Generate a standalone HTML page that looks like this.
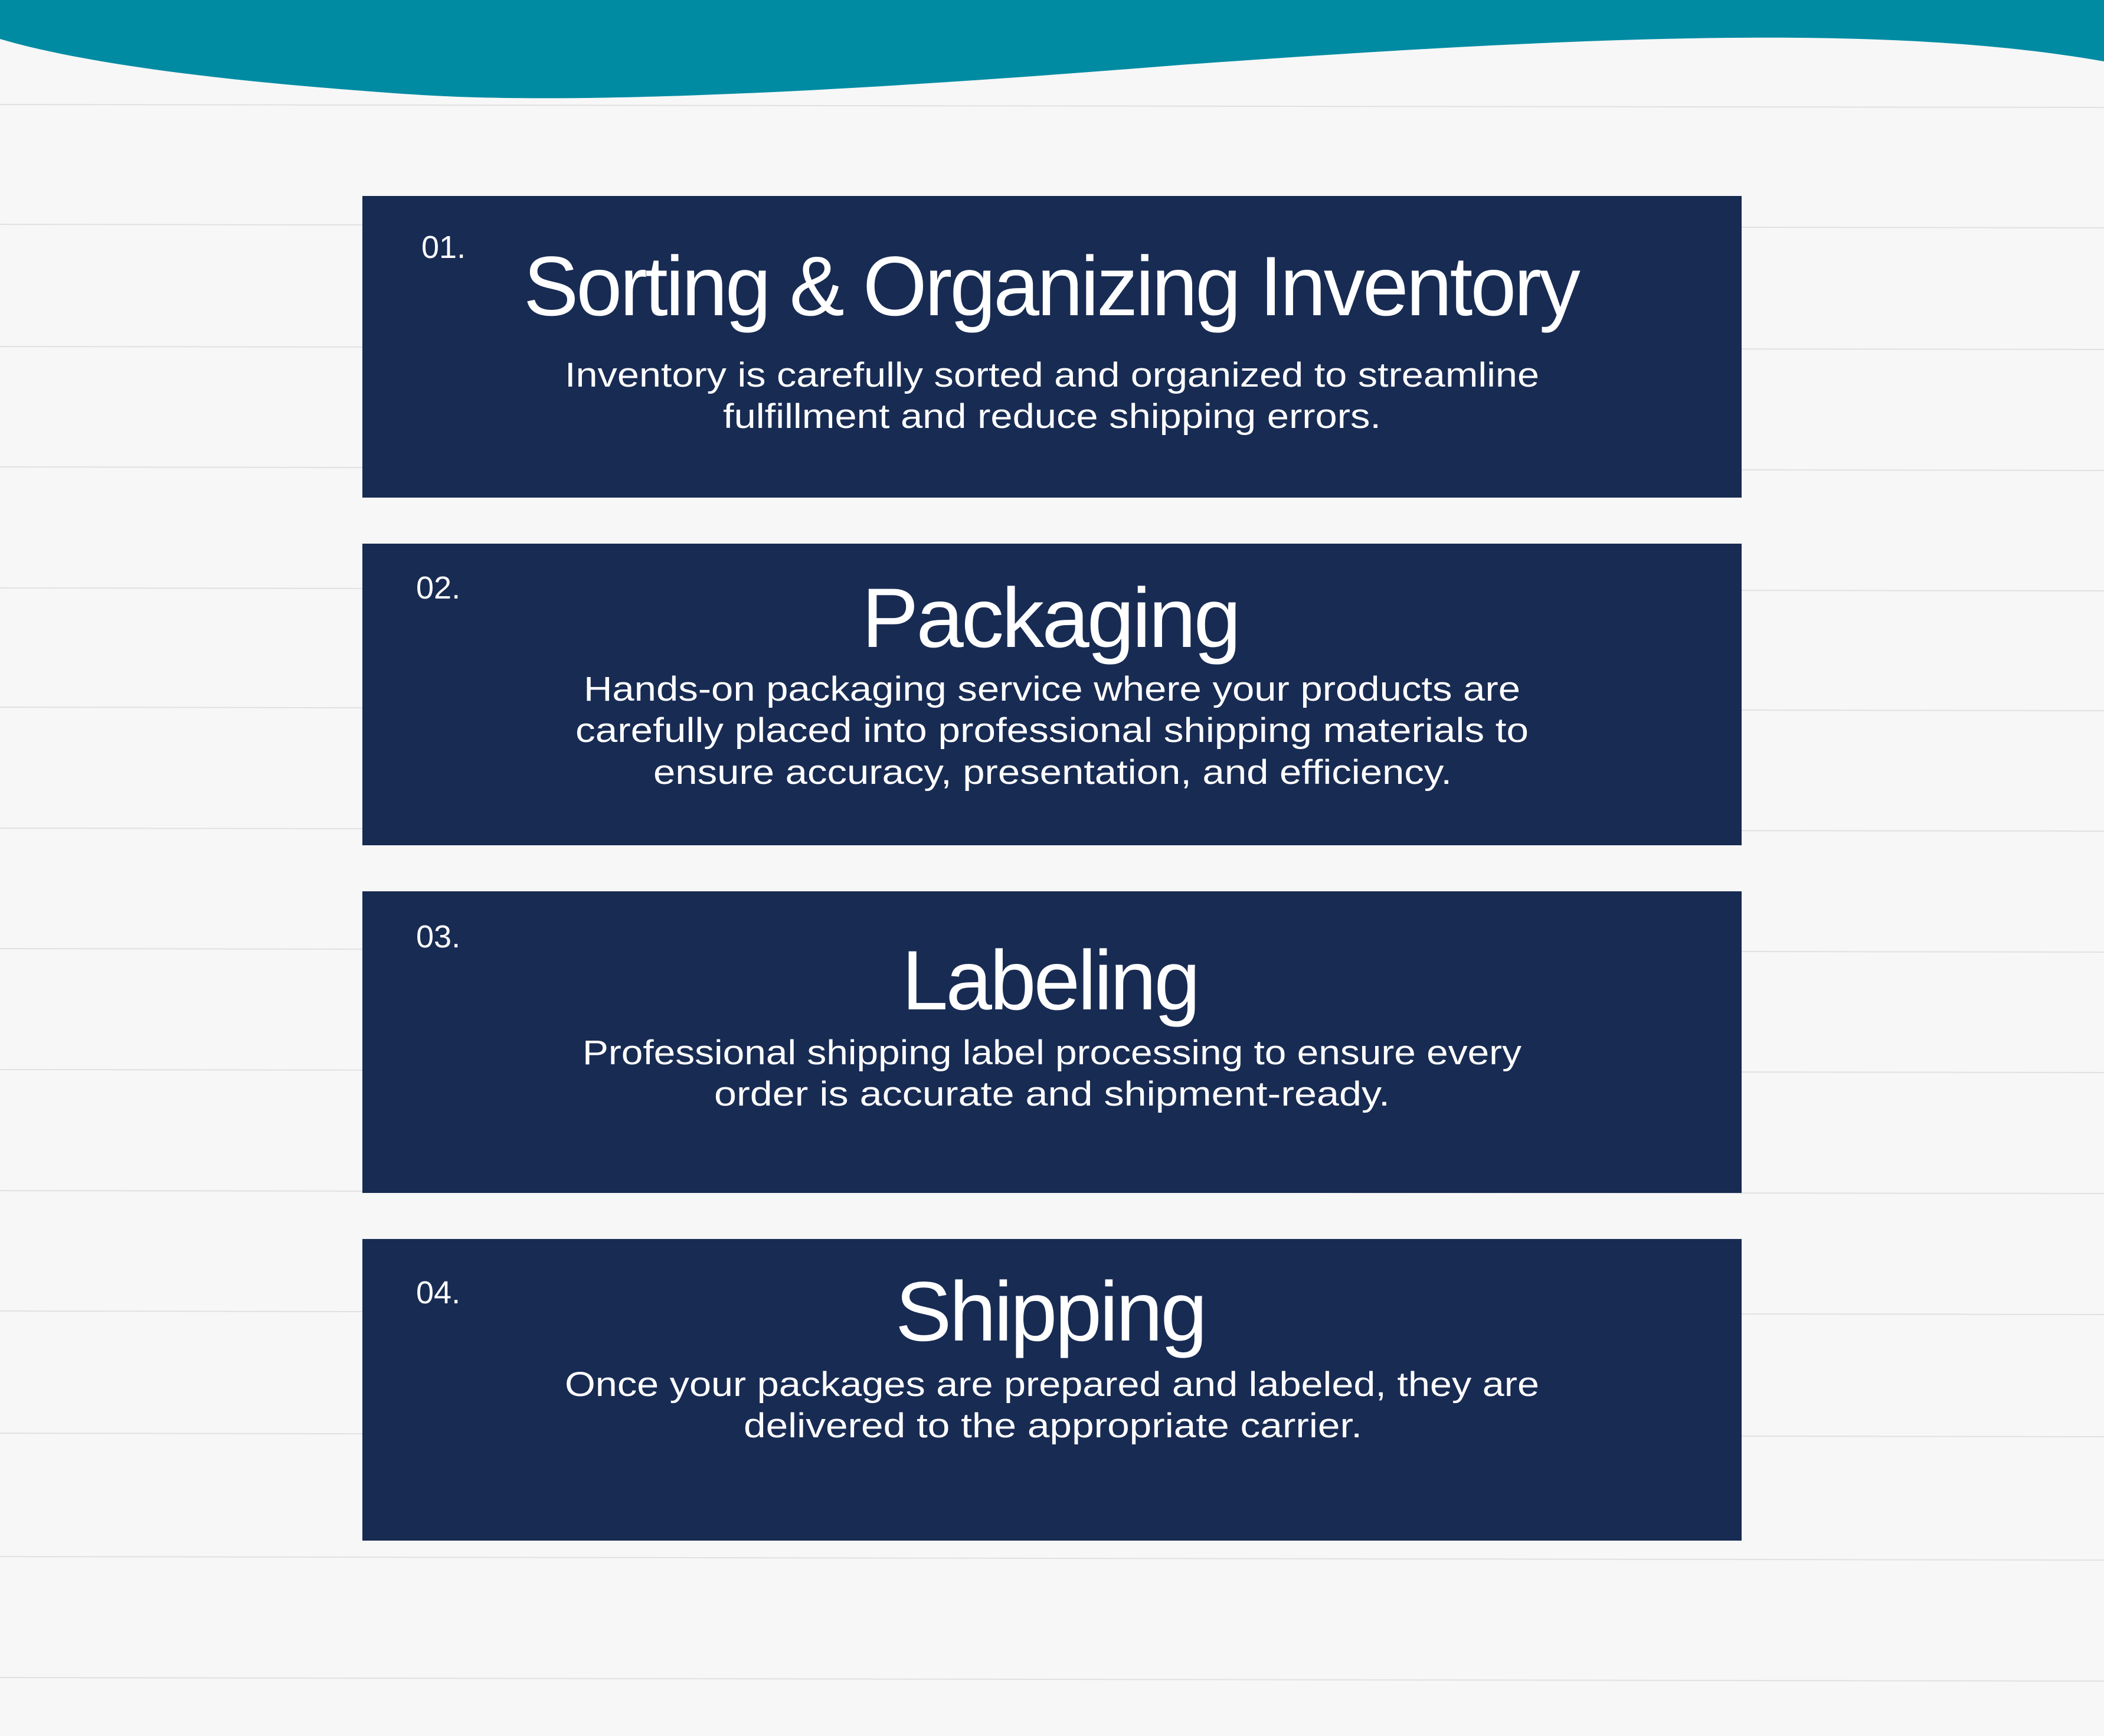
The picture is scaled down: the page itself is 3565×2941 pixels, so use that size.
<!DOCTYPE html>
<html><head><meta charset="utf-8"><style>
html,body{margin:0;padding:0;background:#f7f7f7;}
svg{display:block;}
</style></head><body>
<svg width="3565" height="2941" viewBox="0 0 3565 2941" xmlns="http://www.w3.org/2000/svg">
<rect width="3565" height="2941" fill="#f7f7f7"/>
<g stroke="#e1e1e1" stroke-width="2" fill="none">
<path d="M0 177 L3565 182"/><path d="M0 380 L3565 386"/><path d="M0 587 L3565 592"/>
<path d="M0 791 L3565 797"/><path d="M0 996 L3565 1001"/><path d="M0 1198 L3565 1204"/>
<path d="M0 1403 L3565 1408"/><path d="M0 1607 L3565 1613"/><path d="M0 1812 L3565 1817"/>
<path d="M0 2017 L3565 2022"/><path d="M0 2221 L3565 2227"/><path d="M0 2428 L3565 2434"/>
<path d="M0 2637 L3565 2643"/><path d="M0 2842 L3565 2848"/>
</g>
<path d="M0 0 L3565 0 L3565 104 C3200 40 2700 60 2000 110 C1500 150 1000 180 700 160 C400 140 150 110 0 66 Z" fill="#008ba3"/>
<g fill="#182b53">
<rect x="614" y="332" width="2337" height="511"/>
<rect x="614" y="921" width="2337" height="511"/>
<rect x="614" y="1510" width="2337" height="511"/>
<rect x="614" y="2099" width="2337" height="511"/>
</g>
<g fill="#ffffff" font-family="Liberation Sans, sans-serif">
<g font-size="54">
<text x="714" y="437">01.</text>
<text x="705" y="1014">02.</text>
<text x="705" y="1605">03.</text>
<text x="705" y="2208">04.</text>
</g>
<g font-size="143" letter-spacing="-4">
<text x="887" y="534" textLength="1787" lengthAdjust="spacingAndGlyphs">Sorting &amp; Organizing Inventory</text>
<text x="1460" y="1096" textLength="639" lengthAdjust="spacingAndGlyphs">Packaging</text>
<text x="1528" y="1710" textLength="502" lengthAdjust="spacingAndGlyphs">Labeling</text>
<text x="1517" y="2271" textLength="525" lengthAdjust="spacingAndGlyphs">Shipping</text>
</g>
<g font-size="58">
<text x="957" y="655" textLength="1651" lengthAdjust="spacingAndGlyphs">Inventory is carefully sorted and organized to streamline</text>
<text x="1225" y="725" textLength="1115" lengthAdjust="spacingAndGlyphs">fulfillment and reduce shipping errors.</text>
<text x="989" y="1187" textLength="1587" lengthAdjust="spacingAndGlyphs">Hands-on packaging service where your products are</text>
<text x="975" y="1257" textLength="1615" lengthAdjust="spacingAndGlyphs">carefully placed into professional shipping materials to</text>
<text x="1107" y="1328" textLength="1353" lengthAdjust="spacingAndGlyphs">ensure accuracy, presentation, and efficiency.</text>
<text x="987" y="1803" textLength="1591" lengthAdjust="spacingAndGlyphs">Professional shipping label processing to ensure every</text>
<text x="1210" y="1873" textLength="1145" lengthAdjust="spacingAndGlyphs">order is accurate and shipment-ready.</text>
<text x="957" y="2365" textLength="1651" lengthAdjust="spacingAndGlyphs">Once your packages are prepared and labeled, they are</text>
<text x="1260" y="2435" textLength="1048" lengthAdjust="spacingAndGlyphs">delivered to the appropriate carrier.</text>
</g>
</g>
</svg>
</body></html>
